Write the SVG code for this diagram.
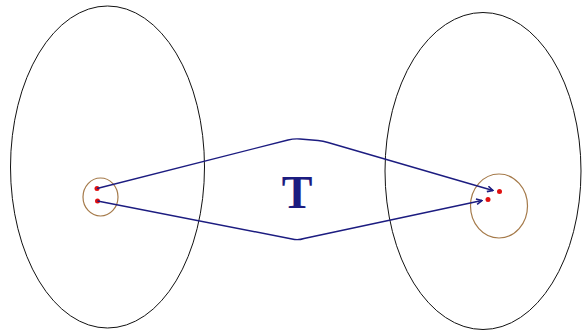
<svg xmlns="http://www.w3.org/2000/svg" width="582" height="333" viewBox="0 0 582 333">
<style>
.big{fill:none;stroke:#111;stroke-width:1}
.small{fill:none;stroke:#a57a4a;stroke-width:1.2}
.dot{fill:#e01010}
.conn{fill:none;stroke:#1c1c80;stroke-width:1.4}
</style>
<defs>
<marker id="ah" viewBox="0 0 10 10" refX="9" refY="5" markerWidth="7" markerHeight="7" orient="auto" markerUnits="userSpaceOnUse">
<path d="M1,1 L9,5 L1,9" fill="none" stroke="#1c1c80" stroke-width="2.2"/>
</marker>
</defs>
<rect width="582" height="333" fill="#fff"/>
<g id="setA">
<ellipse class="big" cx="107.5" cy="167" rx="97" ry="161"/>
<ellipse class="small" cx="100.5" cy="197" rx="17.5" ry="19"/>
<circle class="dot" cx="97" cy="188.5" r="2.5"/>
<circle class="dot" cx="97.5" cy="201" r="2.5"/>
</g>
<g id="setB">
<ellipse class="big" cx="483" cy="171" rx="98" ry="158.5"/>
<ellipse class="small" cx="499" cy="206" rx="28.5" ry="32"/>
<circle class="dot" cx="499.5" cy="191.5" r="2.5"/>
<circle class="dot" cx="488" cy="199.5" r="2.5"/>
</g>
<g id="label">
<text x="297" y="208" font-family="Liberation Serif, serif" font-weight="bold" font-size="46" fill="#1c1c80" text-anchor="middle">T</text>
</g>
<g id="connectors">
<path class="conn" marker-end="url(#ah)" d="M97,188.5 L288,140 Q294,138.5 300,139 L318,140.5 Q323,141 328,142.5 L493,190.5"/>
<path class="conn" marker-end="url(#ah)" d="M97.5,201 L292,239 Q298,240.5 304,238.5 L482,200.5"/>
</g>
</svg>
